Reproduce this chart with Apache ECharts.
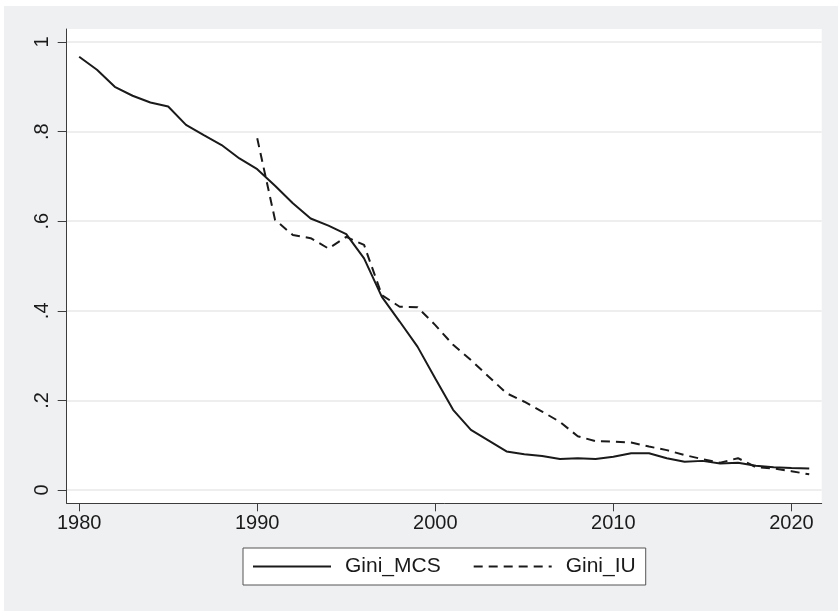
<!DOCTYPE html>
<html>
<head>
<meta charset="utf-8">
<script src="https://cdn.jsdelivr.net/npm/echarts@6/dist/echarts.min.js"></script>
<style>
  html, body { margin: 0; padding: 0; background: #ffffff; }
  #container { width: 838px; height: 611px; }
</style>
</head>
<body>
<div id="container"></div>
<script>
var years = [];
for (var y = 1980; y <= 2021; y++) years.push(y);

var giniMCS = [
    0.967, 0.938, 0.900, 0.880, 0.865, 0.856, 0.815, 0.792, 0.770, 0.740,
    0.716, 0.679, 0.640, 0.606, 0.590, 0.571, 0.517, 0.431, 0.376, 0.320,
    0.249, 0.179, 0.134, 0.110, 0.086, 0.080, 0.076, 0.069, 0.071, 0.069,
    0.074, 0.082, 0.082, 0.071, 0.063, 0.065, 0.059, 0.061, 0.054, 0.051,
    0.049, 0.048
];
var giniIU = [
    null, null, null, null, null, null, null, null, null, null,
    0.785, 0.603, 0.569, 0.562, 0.539, 0.565, 0.547, 0.435, 0.409, 0.408,
    0.368, 0.324, 0.290, 0.253, 0.216, 0.197, 0.175, 0.152, 0.120, 0.109,
    0.108, 0.106, 0.097, 0.089, 0.078, 0.069, 0.061, 0.071, 0.051, 0.048,
    0.042, 0.035
];
var xTicks = [1980, 1990, 2000, 2010, 2020];
var yTicks = [0, 0.2, 0.4, 0.6, 0.8, 1];
var yTickLabels = ['0', '.2', '.4', '.6', '.8', '1'];

function pairs(vals) {
    var out = [];
    for (var i = 0; i < years.length; i++) {
        if (vals[i] !== null) out.push([years[i], vals[i]]);
    }
    return out;
}

var font = "'Liberation Sans', Arial, Helvetica, sans-serif";
var dom = document.getElementById("container");
var myChart = echarts.init(dom);

var option = {
    backgroundColor: '#ffffff',
    animation: false,
    textStyle: { fontFamily: font },
    graphic: [{
        type: 'rect',
        z: -10,
        silent: true,
        shape: { x: 4, y: 6, width: 834, height: 605 },
        style: { fill: '#eff0f2' }
    }],
    grid: {
        left: 66.7,
        top: 29,
        right: 16.3,
        bottom: 107.7,
        show: true,
        backgroundColor: '#ffffff',
        borderWidth: 0
    },
    xAxis: {
        type: 'value',
        min: 1979.3,
        max: 2021.7,
        axisLine: { show: true, onZero: false, lineStyle: { color: '#3c3c3c', width: 1 } },
        axisTick: { show: true, length: 8, customValues: xTicks, lineStyle: { color: '#3c3c3c' } },
        axisLabel: {
            customValues: xTicks,
            margin: 10,
            fontSize: 20,
            color: '#1a1a1a',
            fontFamily: font,
            formatter: function (v) { return String(Math.round(v)); }
        },
        splitLine: { show: false }
    },
    yAxis: {
        type: 'value',
        min: -0.0297,
        max: 1.029,
        axisLine: { show: true, onZero: false, lineStyle: { color: '#3c3c3c', width: 1 } },
        axisTick: { show: true, length: 9, customValues: yTicks, lineStyle: { color: '#3c3c3c' } },
        axisLabel: {
            customValues: yTicks,
            rotate: 90,
            margin: 14,
            fontSize: 20,
            color: '#1a1a1a',
            fontFamily: font,
            formatter: function (v) {
                var i = yTicks.indexOf(Math.round(v * 10) / 10);
                return i >= 0 ? yTickLabels[i] : '';
            }
        },
        splitLine: { show: true, lineStyle: { color: '#e8e8e8', width: 1.5 } }
    },
    legend: {
        left: 243,
        top: 548,
        orient: 'horizontal',
        backgroundColor: '#ffffff',
        borderColor: '#555555',
        borderWidth: 1,
        borderRadius: 0,
        padding: [8, 10, 8, 9],
        itemWidth: 78,
        itemHeight: 14,
        itemGap: 32,
        itemStyle: { opacity: 0 },
        textStyle: {
            fontSize: 21,
            color: '#1a1a1a',
            fontFamily: font,
            padding: [0, 0, 0, 9]
        },
        data: ['Gini_MCS', 'Gini_IU']
    },
    series: [{
        name: 'Gini_MCS',
        type: 'line',
        data: pairs(giniMCS),
        symbol: 'none',
        lineStyle: { color: '#1a1a1a', width: 2, type: 'solid' },
        itemStyle: { color: '#1a1a1a' }
    }, {
        name: 'Gini_IU',
        type: 'line',
        data: pairs(giniIU),
        symbol: 'none',
        lineStyle: { color: '#1a1a1a', width: 2, type: [9, 6] },
        itemStyle: { color: '#1a1a1a' }
    }]
};

if (option && typeof option === "object") {
    myChart.setOption(option, true);
}
</script>
</body>
</html>
